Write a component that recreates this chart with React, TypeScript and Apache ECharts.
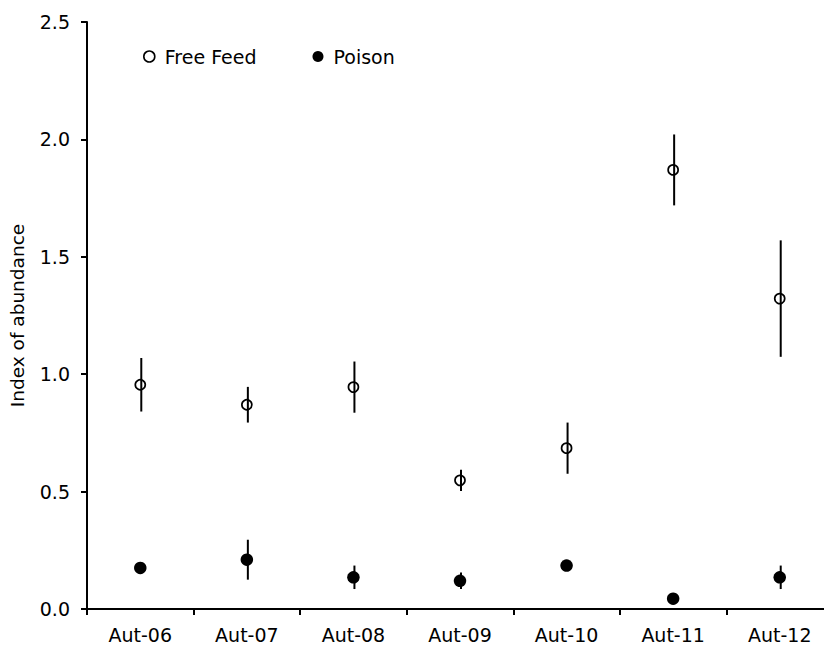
import React, { useEffect, useRef } from "react";
import * as echarts from "echarts";

const categories = ["Aut-06", "Aut-07", "Aut-08", "Aut-09", "Aut-10", "Aut-11", "Aut-12"];
const freeFeedMean = [0.955, 0.87, 0.945, 0.548, 0.685, 1.87, 1.322];
const freeFeedErr = [0.114, 0.076, 0.109, 0.045, 0.109, 0.151, 0.248];
const poisonMean = [0.175, 0.21, 0.135, 0.12, 0.185, 0.044, 0.135];
const poisonErr = [0.025, 0.085, 0.05, 0.035, 0.02, 0.02, 0.05];
const yTicks = [0, 0.5, 1.0, 1.5, 2.0, 2.5];

const FONT = "DejaVu Sans";

function errorSeries(name: string, mean: number[], err: number[]) {
  const data = mean.map((m, i) => [i, m - err[i], m + err[i]]);
  return {
    type: "custom",
    name: name + " SE",
    data,
    z: 1,
    silent: true,
    renderItem: (params: any, api: any) => {
      const x = api.value(0);
      const lo = api.coord([x, api.value(1)]);
      const hi = api.coord([x, api.value(2)]);
      return {
        type: "line",
        shape: { x1: lo[0] + 1, y1: lo[1], x2: hi[0] + 1, y2: hi[1] },
        style: { stroke: "#000", lineWidth: 2 },
      };
    },
  };
}

export default function App() {
  const ref = useRef<HTMLDivElement>(null);
  useEffect(() => {
    if (!ref.current) return;
    const chart = echarts.init(ref.current, null, { renderer: "svg" });
    chart.setOption({
      animation: false,
      backgroundColor: "#fff",
      textStyle: { fontFamily: FONT, color: "#000" },
      grid: {
        left: 87,
        right: -9,
        top: 22,
        bottom: 41,
        containLabel: false,
        outerBoundsMode: "none",
      },
      legend: {
        left: 138,
        top: 42,
        itemWidth: 11,
        itemHeight: 11,
        itemGap: 56,
        data: [
          { name: "Free Feed", icon: "circle", itemStyle: { color: "#fff", borderColor: "#000", borderWidth: 1.6, opacity: 1 } },
          { name: "Poison", icon: "circle", itemStyle: { color: "#000", opacity: 1 } },
        ],
        textStyle: { fontFamily: FONT, fontSize: 19, color: "#000", padding: [0, 0, 0, 5] },
      },
      xAxis: {
        type: "category",
        data: categories,
        boundaryGap: true,
        axisLine: { lineStyle: { color: "#000", width: 2 } },
        axisTick: { show: true, length: 6, lineStyle: { color: "#000", width: 2 } },
        axisLabel: { fontFamily: FONT, fontSize: 19, color: "#000", margin: 16 },
        splitLine: { show: false },
      },
      yAxis: {
        type: "value",
        min: 0,
        max: 2.5,
        interval: 0.5,
        name: "Index of abundance",
        nameLocation: "middle",
        nameRotate: 90,
        nameGap: 60,
        nameTextStyle: { fontFamily: FONT, fontSize: 18.5, color: "#000" },
        axisLine: { show: true, lineStyle: { color: "#000", width: 2 } },
        axisTick: { show: true, length: 6, lineStyle: { color: "#000", width: 2 } },
        axisLabel: {
          fontFamily: FONT,
          fontSize: 19,
          color: "#000",
          margin: 17,
          formatter: (v: number) => (yTicks.indexOf(v) >= 0 ? v.toFixed(1) : ""),
        },
        splitLine: { show: false },
      },
      series: [
        errorSeries("Free Feed", freeFeedMean, freeFeedErr),
        errorSeries("Poison", poisonMean, poisonErr),
        {
          type: "scatter",
          name: "Free Feed",
          data: freeFeedMean,
          symbol: "circle",
          symbolSize: 10,
          z: 3,
          itemStyle: { color: "rgba(255,255,255,0)", borderColor: "#000", borderWidth: 1.7, opacity: 1 },
        },
        {
          type: "scatter",
          name: "Poison",
          data: poisonMean,
          symbol: "circle",
          symbolSize: 12.5,
          z: 3,
          itemStyle: { color: "#000", opacity: 1 },
        },
      ],
    });
    return () => chart.dispose();
  }, []);
  return (
    <div
      ref={ref}
      style={{ position: "fixed", left: 0, top: 0, width: 824, height: 650 }}
    />
  );
}
